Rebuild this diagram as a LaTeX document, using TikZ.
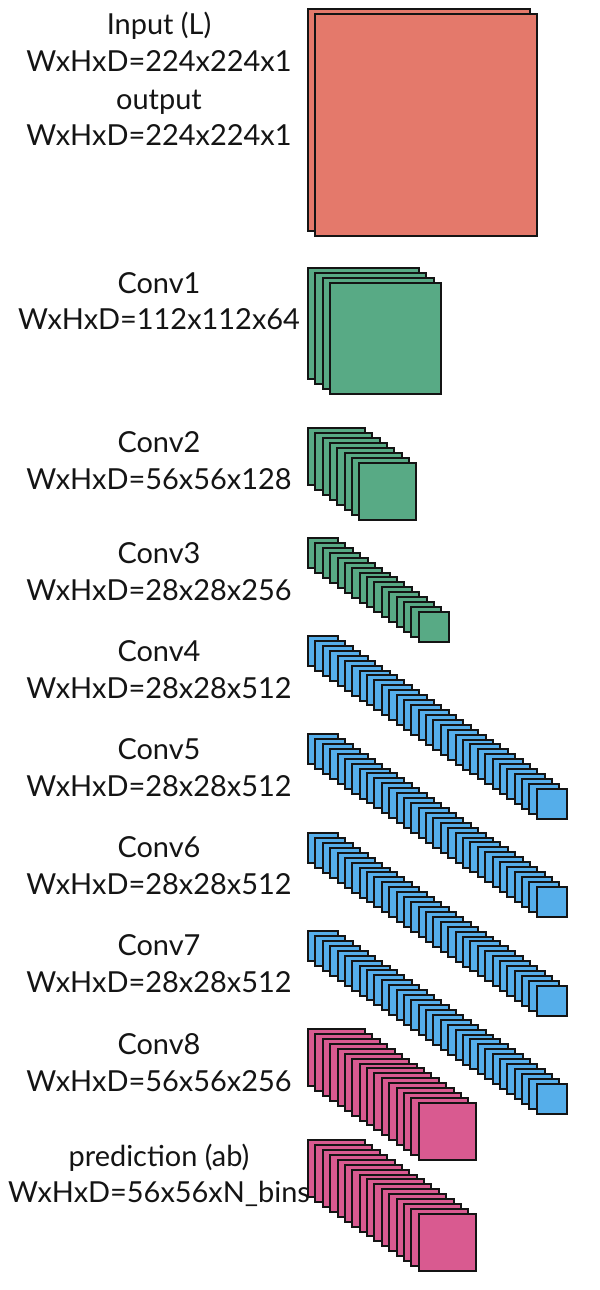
\documentclass[tikz,border=0pt]{standalone}
\usepackage{fontspec}
\setmainfont{Lato}
\definecolor{inred}{HTML}{E4796B}
\definecolor{cgreen}{HTML}{58AA85}
\definecolor{cblue}{HTML}{55AEEA}
\definecolor{cpink}{HTML}{D95A90}
\newcommand{\layerstack}[6]{% x, y, size, count, step in x, colour
  \foreach \li in {1,...,#4}{
    \pgfmathsetmacro{\lx}{round(#1+(\li-1)*#5)}
    \pgfmathsetmacro{\ly}{round(#2+(\li-1)*4.93)}
    \draw[layerbox,fill=#6] (\lx,\ly) rectangle ++(#3,#3);
  }%
}
\tikzset{
  layerbox/.style={draw=black!92,line width=1.6pt,line join=miter},
  lbl/.style={anchor=base,inner sep=0pt,font=\fontsize{21.7pt}{24pt}\selectfont,text=black!92}
}
\begin{document}
\begin{tikzpicture}[x=0.75pt,y=-0.75pt]
\path[use as bounding box,fill=white] (0,0) rectangle (600,1290);
\node[lbl] (inputa) at (159,34) {Input (L)};
\node[lbl] (inputb) at (159,71) {WxHxD=224x224x1};
\node[lbl] (outputa) at (159,109) {output};
\node[lbl] (outputb) at (159,145) {WxHxD=224x224x1};
\node[lbl] (conva) at (159,293) {Conv1};
\node[lbl] (convb) at (159,329) {WxHxD=112x112x64};
\node[lbl] (convc) at (159,452) {Conv2};
\node[lbl] (convd) at (159,489.5) {WxHxD=56x56x128};
\node[lbl] (conve) at (159,563) {Conv3};
\node[lbl] (convf) at (159,600.5) {WxHxD=28x28x256};
\node[lbl] (convg) at (159,661.5) {Conv4};
\node[lbl] (convh) at (159,698.5) {WxHxD=28x28x512};
\node[lbl] (convi) at (159,759.5) {Conv5};
\node[lbl] (convj) at (159,796.5) {WxHxD=28x28x512};
\node[lbl] (convk) at (159,857.5) {Conv6};
\node[lbl] (convl) at (159,894.5) {WxHxD=28x28x512};
\node[lbl] (convm) at (159,955.5) {Conv7};
\node[lbl] (convn) at (159,992.5) {WxHxD=28x28x512};
\node[lbl] (convo) at (159,1054.5) {Conv8};
\node[lbl] (convp) at (159,1091.5) {WxHxD=56x56x256};
\node[lbl] (preda) at (159,1166) {prediction (ab)};
\node[lbl] (predb) at (159,1202) {WxHxD=56x56xN\_bins};
\layerstack{308}{9}{222}{2}{7.4}{inred}
\layerstack{308}{268}{111}{4}{7.33}{cgreen}
\layerstack{308}{428}{57}{8}{7.33}{cgreen}
\layerstack{308}{538}{30}{16}{7.38}{cgreen}
\layerstack{308}{636}{30}{32}{7.38}{cblue}
\layerstack{308}{734}{30}{32}{7.38}{cblue}
\layerstack{308}{833}{30}{32}{7.38}{cblue}
\layerstack{308}{931}{30}{32}{7.38}{cblue}
\layerstack{308}{1029}{57}{16}{7.38}{cpink}
\layerstack{308}{1140}{57}{16}{7.38}{cpink}
\end{tikzpicture}
\end{document}
